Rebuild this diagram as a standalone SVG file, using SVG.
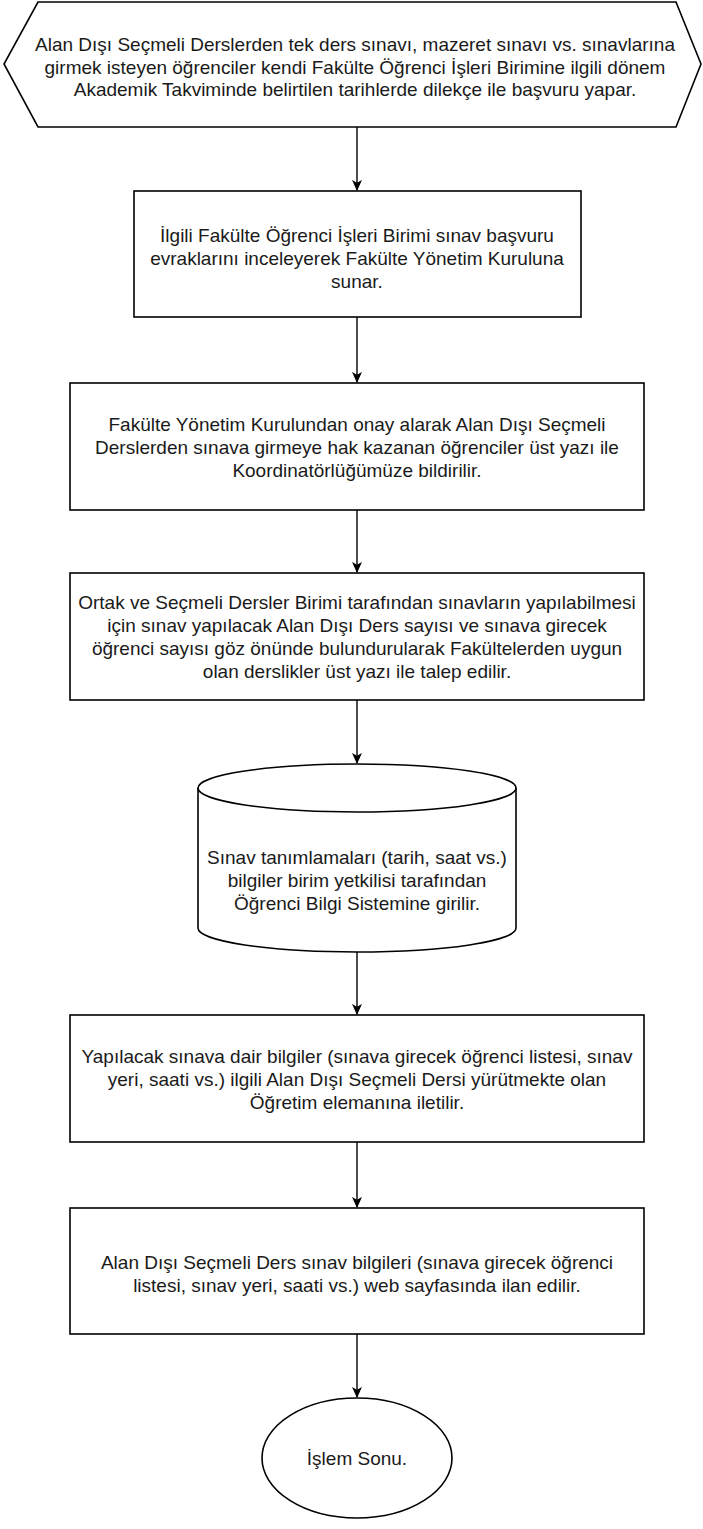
<svg xmlns="http://www.w3.org/2000/svg" width="703" height="1529" viewBox="0 0 703 1529">
<style>
.shape{fill:#ffffff;stroke:#000000;stroke-width:1.6}
.lbl{font-family:"Liberation Sans",Arial,sans-serif;font-size:19px;fill:#1a1a1a;text-anchor:middle}
.edge{stroke:#000000;stroke-width:1.4;fill:none;marker-end:url(#arr)}
</style>
<defs>
<marker id="arr" viewBox="0 0 10 10" refX="9" refY="5" markerWidth="11" markerHeight="11" markerUnits="userSpaceOnUse" orient="auto">
<path d="M0,0.5 L10,5 L0,9.5 L2.5,5 Z" fill="#000000"/>
</marker>
</defs>
<rect width="703" height="1529" fill="#ffffff"/>
<g id="connectors">
<line class="edge" x1="357" y1="127" x2="357" y2="190"/>
<line class="edge" x1="357" y1="317" x2="357" y2="382"/>
<line class="edge" x1="357" y1="510" x2="357" y2="572"/>
<line class="edge" x1="357" y1="700" x2="357" y2="763"/>
<line class="edge" x1="357" y1="952" x2="357" y2="1014"/>
<line class="edge" x1="357" y1="1142" x2="357" y2="1207"/>
<line class="edge" x1="357" y1="1334" x2="357" y2="1397"/>
</g>
<g id="start">
<polygon class="shape" points="38,2 676,2 701,64 676,127 38,127 4,64"/>
<text class="lbl" x="355" y="51">Alan Dışı Seçmeli Derslerden tek ders sınavı, mazeret sınavı vs. sınavlarına</text>
<text class="lbl" x="355" y="73.5">girmek isteyen öğrenciler kendi Fakülte Öğrenci İşleri Birimine ilgili dönem</text>
<text class="lbl" x="355" y="96">Akademik Takviminde belirtilen tarihlerde dilekçe ile başvuru yapar.</text>
</g>
<g id="step1">
<rect class="shape" x="134" y="191" width="447" height="126"/>
<text class="lbl" x="357" y="242">İlgili Fakülte Öğrenci İşleri Birimi sınav başvuru</text>
<text class="lbl" x="357" y="265">evraklarını inceleyerek Fakülte Yönetim Kuruluna</text>
<text class="lbl" x="357" y="288">sunar.</text>
</g>
<g id="step2">
<rect class="shape" x="70" y="383" width="574" height="127"/>
<text class="lbl" x="357" y="431">Fakülte Yönetim Kurulundan onay alarak Alan Dışı Seçmeli</text>
<text class="lbl" x="357" y="454">Derslerden sınava girmeye hak kazanan öğrenciler üst yazı ile</text>
<text class="lbl" x="357" y="477">Koordinatörlüğümüze bildirilir.</text>
</g>
<g id="step3">
<rect class="shape" x="70" y="573" width="574" height="127"/>
<text class="lbl" x="357" y="609">Ortak ve Seçmeli Dersler Birimi tarafından sınavların yapılabilmesi</text>
<text class="lbl" x="357" y="632">için sınav yapılacak Alan Dışı Ders sayısı ve sınava girecek</text>
<text class="lbl" x="357" y="655">öğrenci sayısı göz önünde bulundurularak Fakültelerden uygun</text>
<text class="lbl" x="357" y="678">olan derslikler üst yazı ile talep edilir.</text>
</g>
<g id="step4">
<path class="shape" d="M198,788 A159,24 0 0 1 516,788 L516,928 A159,24 0 0 1 198,928 Z"/>
<path d="M198,788 A159,24 0 0 0 516,788" fill="none" stroke="#000000" stroke-width="1.6"/>
<text class="lbl" x="357" y="864">Sınav tanımlamaları (tarih, saat vs.)</text>
<text class="lbl" x="357" y="887">bilgiler birim yetkilisi tarafından</text>
<text class="lbl" x="357" y="910">Öğrenci Bilgi Sistemine girilir.</text>
</g>
<g id="step5">
<rect class="shape" x="70" y="1015" width="574" height="127"/>
<text class="lbl" x="357" y="1063">Yapılacak sınava dair bilgiler (sınava girecek öğrenci listesi, sınav</text>
<text class="lbl" x="357" y="1086">yeri, saati vs.) ilgili Alan Dışı Seçmeli Dersi yürütmekte olan</text>
<text class="lbl" x="357" y="1109">Öğretim elemanına iletilir.</text>
</g>
<g id="step6">
<rect class="shape" x="70" y="1208" width="574" height="126"/>
<text class="lbl" x="357" y="1269">Alan Dışı Seçmeli Ders sınav bilgileri (sınava girecek öğrenci</text>
<text class="lbl" x="357" y="1292">listesi, sınav yeri, saati vs.) web sayfasında ilan edilir.</text>
</g>
<g id="end">
<ellipse class="shape" cx="357" cy="1458" rx="95" ry="60"/>
<text class="lbl" x="357" y="1465">İşlem Sonu.</text>
</g>
</svg>
